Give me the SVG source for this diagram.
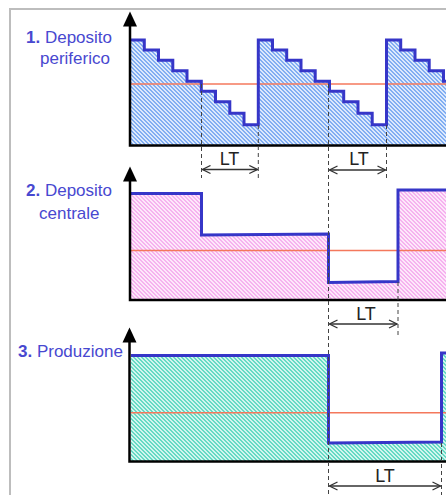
<svg xmlns="http://www.w3.org/2000/svg" width="446" height="495" viewBox="0 0 446 495">
<defs>
<pattern id="hb" patternUnits="userSpaceOnUse" width="4" height="4">
<rect width="4" height="4" fill="#dce9fc"/>
<rect x="0" y="0" width="2" height="1" fill="#82aef2"/><rect x="1" y="1" width="2" height="1" fill="#82aef2"/><rect x="2" y="2" width="2" height="1" fill="#82aef2"/><rect x="3" y="3" width="1" height="1" fill="#82aef2"/><rect x="0" y="3" width="1" height="1" fill="#82aef2"/>
</pattern>
<pattern id="hp" patternUnits="userSpaceOnUse" width="4" height="4">
<rect width="4" height="4" fill="#fde8fa"/>
<rect x="0" y="0" width="2" height="1" fill="#f6b2ef"/><rect x="1" y="1" width="2" height="1" fill="#f6b2ef"/><rect x="2" y="2" width="2" height="1" fill="#f6b2ef"/><rect x="3" y="3" width="1" height="1" fill="#f6b2ef"/><rect x="0" y="3" width="1" height="1" fill="#f6b2ef"/>
</pattern>
<pattern id="ht" patternUnits="userSpaceOnUse" width="4" height="4">
<rect width="4" height="4" fill="#d2f5ee"/>
<rect x="0" y="0" width="2" height="1" fill="#66dac4"/><rect x="1" y="1" width="2" height="1" fill="#66dac4"/><rect x="2" y="2" width="2" height="1" fill="#66dac4"/><rect x="3" y="3" width="1" height="1" fill="#66dac4"/><rect x="0" y="3" width="1" height="1" fill="#66dac4"/>
</pattern>
<marker id="chev" viewBox="0 0 10 10" refX="9" refY="5" markerWidth="10" markerHeight="10" markerUnits="userSpaceOnUse" orient="auto-start-reverse">
<path d="M1,1 L9,5 L1,9" fill="none" stroke="#333" stroke-width="1.3"/>
</marker>
</defs>
<style>
.lbl{font-family:"Liberation Sans",Arial,sans-serif;font-size:17px;fill:#4848d0}
.lbl tspan.b{font-weight:bold}
.lt{font-family:"Liberation Sans",Arial,sans-serif;font-size:18px;fill:#222;text-anchor:middle}
.axis{stroke:#000;stroke-width:2.5;fill:none}
.ref{stroke:#f4785c;stroke-width:1.6;fill:none}
.lvl{stroke:#3636c8;stroke-width:3;fill:none;stroke-linejoin:miter}
.dash{stroke:#444;stroke-width:1;stroke-dasharray:4 3;fill:none}
.dim{stroke:#333;stroke-width:1.5;fill:none;marker-start:url(#chev);marker-end:url(#chev)}
.frame{stroke:#bdbdbd;stroke-width:2;fill:none}
</style>
<path class="frame" d="M10,495 V9 H446"/>

<g id="chart1">
<path fill="url(#hb)" d="M131,40 H144.3 V50 H158.5 V60.3 H172.8 V70.7 H187 V81.3 H201.3 V91.3 H215.5 V101.8 H229.8 V113.3 H244 V124.8 H258.3 V40 H272.5 V50 H286.7 V60.3 H301 V70.7 H315.2 V81.3 H329.5 V91.3 H343.7 V101.8 H358 V113.3 H372.2 V124.8 H386.5 V40 H400.7 V50 H415 V60.3 H429.2 V70.7 H443.5 V81.3 H446 V145 H131 Z"/>
<line class="ref" x1="131" y1="84" x2="446" y2="84"/>
<path class="lvl" d="M131,40 H144.3 V50 H158.5 V60.3 H172.8 V70.7 H187 V81.3 H201.3 V91.3 H215.5 V101.8 H229.8 V113.3 H244 V124.8 H258.3 V40 H272.5 V50 H286.7 V60.3 H301 V70.7 H315.2 V81.3 H329.5 V91.3 H343.7 V101.8 H358 V113.3 H372.2 V124.8 H386.5 V40 H400.7 V50 H415 V60.3 H429.2 V70.7 H443.5 V81.3 H447"/>
<path class="axis" d="M130,25 V145.5 H446"/>
<polygon points="130,11.5 123,26.5 137,26.5" fill="#000"/>
<text class="lbl" x="26" y="43"><tspan class="b">1.</tspan> Deposito</text>
<text class="lbl" x="40" y="64">periferico</text>
</g>

<g id="chart2">
<path fill="url(#hp)" d="M131,193.5 H201.5 V235 L328.5,234 V282.5 L398,281.5 V190 H446 V300 H131 Z"/>
<line class="ref" x1="131" y1="250.5" x2="446" y2="250.5"/>
<path class="lvl" d="M131,193.5 H201.5 V235 L328.5,234 V282.5 L398,281.5 V190 H447"/>
<path class="axis" d="M130,180 V300 H446"/>
<polygon points="130,166.5 123,181.5 137,181.5" fill="#000"/>
<text class="lbl" x="26" y="196"><tspan class="b">2.</tspan> Deposito</text>
<text class="lbl" x="39" y="219">centrale</text>
</g>

<g id="chart3">
<path fill="url(#ht)" d="M131,355.5 H328.5 V443 L441.5,442 V353 H446 V461.5 H131 Z"/>
<line class="ref" x1="131" y1="412.7" x2="446" y2="412.7"/>
<path class="lvl" d="M131,355.5 H328.5 V443 L441.5,442 V353 H447"/>
<path class="axis" d="M129.5,341 V461.5 H446"/>
<polygon points="129.5,327.5 122.5,342.5 136.5,342.5" fill="#000"/>
<text class="lbl" x="18" y="357"><tspan class="b">3.</tspan> Produzione</text>
</g>

<g id="connectors">
<line class="dash" x1="201.5" y1="84" x2="201.5" y2="178"/>
<line class="dash" x1="258.3" y1="125" x2="258.3" y2="178"/>
<line class="dash" x1="328.5" y1="84" x2="328.5" y2="495"/>
<line class="dash" x1="386.5" y1="125" x2="386.5" y2="178"/>
<line class="dash" x1="398" y1="282" x2="398" y2="335"/>
<line class="dash" x1="441.5" y1="443" x2="441.5" y2="495"/>
<line class="dim" x1="202.5" y1="169.5" x2="257.3" y2="169.5"/>
<line class="dim" x1="329.5" y1="170" x2="385.5" y2="170"/>
<line class="dim" x1="329.5" y1="324" x2="397" y2="324"/>
<line class="dim" x1="329.5" y1="486" x2="440.5" y2="486"/>
<text class="lt" x="229.5" y="165">LT</text>
<text class="lt" x="359" y="165">LT</text>
<text class="lt" x="366" y="320">LT</text>
<text class="lt" x="385" y="482">LT</text>
</g>
</svg>
